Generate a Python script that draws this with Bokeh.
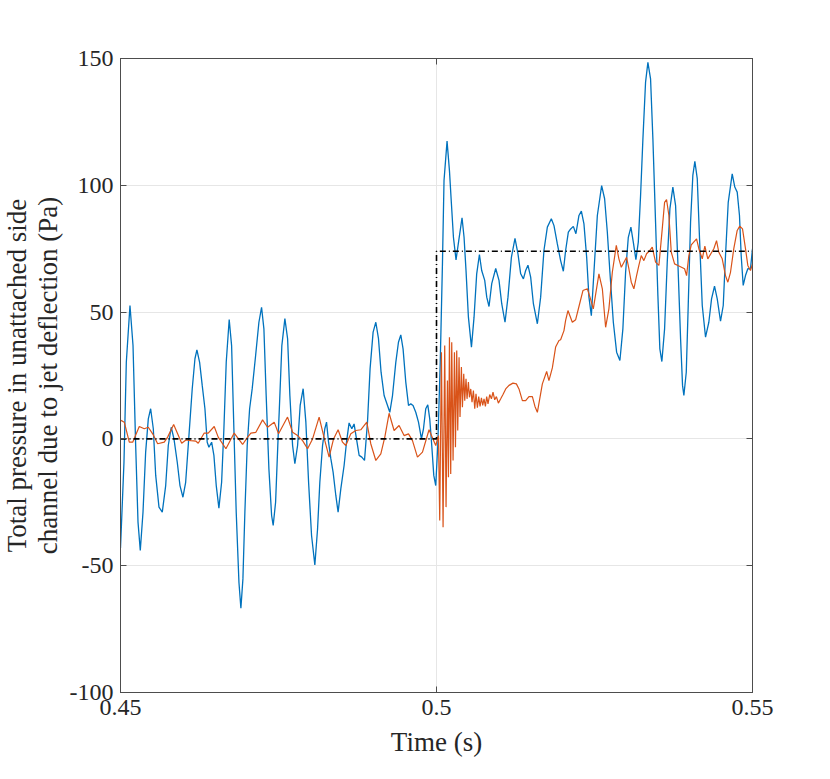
from bokeh.plotting import figure
from bokeh.models import Range1d, LinearAxis, FixedTicker, Title
from bokeh.embed import file_html
from bokeh.resources import INLINE

# ---- data (time in ms, pressure in Pa) ----
blue_t_ms = [450.00, 450.55, 450.92, 451.50, 451.98, 452.40, 452.77, 453.13, 453.56, 453.98,
             454.40, 454.77, 455.19, 455.57, 456.09, 456.61, 457.15, 457.56, 458.03, 458.46,
             458.98, 459.41, 459.88, 460.31, 460.83, 461.35, 461.78, 462.09, 462.52, 462.93,
             463.36, 463.72, 463.99, 464.42, 464.78, 465.15, 465.57, 466.00, 466.36, 466.73,
             467.20, 467.58, 467.94, 468.31, 468.74, 469.05, 469.37, 469.68, 470.05, 470.43,
             470.84, 471.38, 471.90, 472.32, 472.69, 473.05, 473.48, 473.91, 474.16, 474.54,
             474.95, 475.11, 475.53, 476.01, 476.44, 476.80, 477.23, 477.59, 478.02, 478.43,
             478.90, 479.33, 479.76, 480.23, 480.75, 481.18, 481.54, 481.97, 482.33, 482.60,
             482.92, 483.28, 483.64, 484.07, 484.43, 484.86, 485.38, 485.76, 486.17, 486.60,
             486.96, 487.34, 487.76, 488.18, 488.61, 489.08, 489.49, 489.97, 490.40, 490.82,
             491.23, 491.71, 492.25, 492.61, 493.04, 493.56, 493.98, 494.35, 494.71, 495.14,
             495.57, 495.93, 496.29, 496.72, 497.15, 497.62, 497.94, 498.30, 498.62, 498.93,
             499.25, 499.57, 499.88, 500.20, 500.59, 500.94, 501.19, 501.67, 502.05, 502.36,
             502.68, 503.09, 503.52, 504.04, 504.36, 504.67, 505.05, 505.53, 505.94, 506.36,
             506.79, 507.15, 507.63, 507.95, 508.31, 508.74, 509.37, 509.89, 510.32, 510.84,
             511.31, 511.85, 512.42, 512.89, 513.32, 513.75, 514.11, 514.47, 514.90, 515.33,
             515.96, 516.48, 517.00, 517.54, 518.17, 518.59, 519.12, 519.64, 520.07, 520.43,
             520.86, 521.23, 521.65, 522.06, 522.54, 522.92, 523.33, 523.76, 524.12, 524.50,
             524.91, 525.45, 526.13, 526.60, 527.03, 527.44, 527.98, 528.50, 529.02, 529.49,
             529.92, 530.35, 530.76, 531.14, 531.55, 531.93, 532.29, 532.66, 533.08, 533.45,
             533.87, 534.24, 534.66, 535.03, 535.34, 535.66, 536.09, 536.51, 536.93, 537.40,
             537.83, 538.19, 538.62, 538.93, 539.14, 539.52, 539.83, 540.20, 540.56, 540.88,
             541.26, 541.62, 542.05, 542.57, 543.09, 543.52, 543.99, 544.42, 544.94, 545.37,
             545.73, 546.16, 546.79, 547.20, 547.58, 547.94, 548.21, 548.53, 548.89, 549.26,
             549.68, 550.00]
blue_p = [-43.0, -9.2, 30.2, 52.6, 36.8, -2.6, -32.8, -44.0, -28.9, -5.2,
          7.9, 11.9, 4.0, -14.4, -26.9, -28.9, -18.4, -2.6, 4.6, 0.0,
          -9.2, -18.4, -23.0, -17.1, 1.3, 19.8, 31.6, 35.1, 30.2, 21.1,
          11.9, -1.3, -3.3, -1.3, -6.5, -18.4, -27.3, -17.1, 4.0, 30.2,
          47.1, 36.8, 4.0, -28.9, -56.5, -66.8, -55.2, -28.9, -2.6, 11.9,
          19.8, 32.9, 46.0, 51.9, 43.4, 17.1, -11.8, -30.2, -34.1, -25.0,
          1.3, 10.5, 36.8, 47.4, 39.5, 17.1, -2.6, -9.8, -2.6, 13.2,
          19.8, 6.6, -17.1, -38.1, -49.7, -35.5, -17.1, -2.6, 4.0, 6.6,
          -1.3, -7.8, -13.1, -22.3, -28.9, -19.7, -10.5, -1.3, 6.3, 4.0,
          5.9, 0.0, -6.5, -7.2, -8.5, 6.6, 27.6, 42.1, 46.0, 39.5,
          26.3, 17.1, 13.2, 10.5, 17.1, 30.2, 38.1, 41.0, 35.5, 22.4,
          13.2, 13.8, 13.2, 10.5, 6.6, 0.0, 4.0, 11.9, 13.4, 7.9,
          -2.6, -14.4, -18.4, -2.6, 30.0, 69.0, 101.9, 117.4, 105.8, 92.7,
          79.5, 70.6, 78.2, 87.2, 79.5, 66.4, 48.0, 36.2, 48.0, 65.1,
          72.7, 66.4, 62.5, 55.9, 52.2, 61.2, 67.2, 62.5, 53.3, 46.0,
          55.9, 71.6, 79.1, 73.0, 65.1, 63.1, 66.4, 68.5, 63.8, 53.3,
          45.4, 55.9, 74.3, 83.5, 86.8, 84.1, 76.9, 70.3, 66.1, 74.3,
          81.5, 82.8, 83.8, 80.9, 88.1, 89.8, 84.8, 71.6, 55.9, 48.6,
          65.7, 88.1, 99.9, 94.7, 81.5, 65.7, 46.0, 34.2, 30.9, 43.4,
          65.7, 79.5, 83.5, 77.6, 70.7, 77.6, 96.0, 118.3, 140.7, 148.5,
          142.0, 118.3, 85.5, 56.5, 35.5, 30.5, 43.4, 69.7, 90.7, 99.3,
          92.0, 69.7, 39.5, 21.1, 17.1, 26.3, 52.6, 85.5, 103.9, 109.4,
          102.6, 78.9, 52.6, 40.1, 46.0, 55.2, 60.2, 55.2, 46.4, 52.6,
          72.3, 93.3, 104.5, 99.3, 97.3, 88.1, 72.3, 60.5, 64.4, 67.1,
          67.1, 75.0]

orange_t_ms = [450.08, 450.60, 451.39, 451.93, 452.97, 453.76, 454.40, 455.09, 455.88, 456.92,
               457.46, 458.41, 459.04, 459.68, 460.36, 461.15, 461.94, 462.30, 463.25, 463.88,
               464.83, 465.46, 466.68, 467.99, 469.32, 470.11, 470.63, 471.42, 472.48, 473.27,
               474.32, 475.01, 476.43, 477.23, 478.02, 478.81, 479.60, 480.39, 481.43, 482.33,
               483.01, 483.71, 484.43, 485.13, 485.65, 486.44, 487.23, 488.02, 488.97, 489.60,
               490.40, 491.19, 491.82, 492.50, 493.29, 494.08, 494.87, 495.57, 496.20, 496.99,
               497.78, 498.82, 499.88,
               500.31, 500.51, 500.78, 501.04, 501.30, 501.51, 501.73, 501.89, 502.05, 502.25,
               502.41, 502.62, 502.84, 503.00, 503.20, 503.36, 503.57, 503.72, 503.94, 504.10,
               504.31, 504.47, 504.67, 504.83, 505.05, 505.21, 505.42, 505.62, 505.84, 506.05,
               506.25, 506.47, 506.68, 506.89, 507.11, 507.31, 507.52, 507.74, 507.94, 508.15,
               508.42, 508.69, 508.94, 509.21, 509.48, 509.79, 510.16, 510.52, 510.95, 511.47,
               512.10, 512.64, 513.05, 513.59, 514.11, 514.63, 515.17, 515.58, 515.96, 516.75,
               517.43, 517.79, 518.33, 518.85, 519.38, 519.64, 520.17, 520.43, 520.80, 521.49,
               522.02, 522.65, 523.17, 523.87, 524.39, 524.81, 525.70, 526.24, 526.76, 527.28,
               527.82, 528.45, 528.86, 529.24, 530.08, 530.44, 530.82, 531.23, 531.66, 532.02,
               532.40, 532.81, 533.24, 533.76, 534.14, 534.66, 535.19, 535.72, 536.09, 536.40,
               536.77, 537.15, 537.67, 538.19, 539.25, 539.57, 539.93, 540.31, 541.15, 541.51,
               542.05, 542.46, 542.93, 543.88, 544.31, 544.67, 545.21, 545.73, 546.10, 546.52,
               547.04, 547.58, 547.99, 548.42, 548.89, 549.26, 549.68, 550.00]
orange_p = [7.3, 6.6, -1.3, -1.3, 4.9, 4.0, 4.6, 2.0, -1.9, -1.3,
            0.7, 5.7, 2.0, -1.7, -0.4, -0.7, -0.9, -1.7, 2.3, 2.3,
            4.9, 0.7, -3.9, 2.3, -2.2, 0.7, 2.3, 2.6, 7.5, 4.6,
            6.6, 2.0, 8.6, 2.6, 1.3, -0.7, -3.9, 0.0, 8.6, -0.7,
            -7.2, 0.0, 3.6, -1.3, -2.6, 2.0, 3.3, 3.6, 6.6, -1.9,
            -8.5, -5.9, 0.7, 10.1, 3.3, 5.3, 1.3, 2.0, -0.7, -7.2,
            -5.2, 3.6, -2.6,
            1.3, -32.2, 34.2, -34.8, 36.8, -26.9, 23.0, -15.1, 40.1, -13.8,
            38.1, -8.5, 34.2, -3.3, 34.9, 3.3, 32.2, 8.6, 28.3, 12.5,
            25.7, 15.1, 23.7, 15.8, 22.4, 16.4, 19.7, 14.5, 19.1, 11.9,
            17.8, 12.3, 16.7, 12.8, 16.2, 13.2, 15.8, 12.8, 16.7, 13.8,
            17.5, 15.8, 18.4, 15.4, 16.7, 14.1, 15.8, 17.5, 19.7, 21.1,
            22.0, 21.7, 19.7, 15.1, 15.1, 16.7, 16.7, 12.8, 10.5, 21.7,
            26.6, 23.0, 28.0, 36.2, 38.8, 39.1, 42.7, 46.7, 50.6, 46.0,
            47.0, 53.3, 58.5, 59.2, 55.0, 51.3, 65.1, 59.2, 44.0, 51.3,
            65.7, 76.3, 71.0, 67.7, 71.6, 67.1, 61.8, 59.2, 64.4, 68.4,
            72.3, 70.3, 73.0, 74.3, 75.6, 69.7, 68.4, 82.8, 93.3, 94.4,
            88.1, 73.6, 69.0, 68.4, 67.1, 64.4, 72.3, 76.5, 78.9, 75.0,
            71.0, 76.0, 71.0, 75.0, 78.2, 73.6, 71.0, 64.4, 61.8, 65.7,
            75.0, 82.2, 83.9, 82.8, 75.0, 68.4, 66.4, 69.0]

step_t_ms = [450.0, 500.0, 500.0, 550.0]
step_p = [0.0, 0.0, 74.0, 74.0]

x_ticks = [0.45, 0.5, 0.55]
x_tick_labels = ["0.45", "0.5", "0.55"]
y_ticks = [-100, -50, 0, 50, 100, 150]
y_tick_labels = ["-100", "-50", "0", "50", "100", "150"]

x_label = "Time (s)"
y_label_1 = "Total pressure in unattached side"
y_label_2 = "channel due to jet deflection (Pa)"

# ---- figure ----
FONT = "Liberation Serif"
TXT = "#262626"
AX = "#4d4d4d"

p = figure(width=820, height=772, x_range=Range1d(0.45, 0.55), y_range=Range1d(-100, 150),
           output_backend="svg", toolbar_location=None,
           min_border_left=120, min_border_right=68, min_border_top=58, min_border_bottom=80)
p.background_fill_color = "white"
p.border_fill_color = "white"
p.outline_line_color = AX

p.xaxis.ticker = FixedTicker(ticks=x_ticks)
p.xaxis.major_label_overrides = dict(zip(x_ticks, x_tick_labels))
p.yaxis.ticker = FixedTicker(ticks=y_ticks)
p.yaxis.major_label_overrides = dict(zip(y_ticks, y_tick_labels))

for ax in (p.xaxis[0], p.yaxis[0]):
    ax.axis_line_color = AX
    ax.major_tick_line_color = AX
    ax.major_tick_in = 6
    ax.major_tick_out = 0
    ax.minor_tick_line_color = None
    ax.major_label_text_font = FONT
    ax.major_label_text_font_size = "24px"
    ax.major_label_text_color = TXT
    ax.axis_label_text_font = FONT
    ax.axis_label_text_font_size = "27px"
    ax.axis_label_text_font_style = "normal"
    ax.axis_label_text_color = TXT

p.xaxis.major_label_standoff = 7
p.yaxis.major_label_standoff = 7
p.xaxis.axis_label = x_label
p.xaxis.axis_label_standoff = 9
p.yaxis.axis_label = y_label_2
p.yaxis.axis_label_standoff = 4

p.xgrid.ticker = FixedTicker(ticks=x_ticks)
p.ygrid.ticker = FixedTicker(ticks=y_ticks)
p.grid.grid_line_color = "#e6e6e6"
p.grid.grid_line_width = 1

# box axes (right / top): inward ticks, empty labels
for loc, tk in (("right", y_ticks), ("above", x_ticks)):
    a = LinearAxis(ticker=FixedTicker(ticks=tk))
    a.major_label_overrides = {t: "" for t in tk}
    a.axis_line_color = AX
    a.major_tick_line_color = AX
    a.major_tick_in = 6
    a.major_tick_out = 0
    a.minor_tick_line_color = None
    a.major_label_standoff = 0
    p.add_layout(a, loc)

# first line of the y label, outside the axis label
p.add_layout(Title(text=y_label_1, align="center", text_font=FONT, text_font_size="27px",
                   text_font_style="normal", text_color=TXT, standoff=-4, offset=0), "left")

# ---- series ----
to_s = lambda arr: [v / 1000.0 for v in arr]
p.line(to_s(blue_t_ms), blue_p, line_color="#0072BD", line_width=1.3)
p.line(to_s(orange_t_ms), orange_p, line_color="#D95319", line_width=1.2)
p.line(to_s(step_t_ms), step_p, line_color="black", line_width=1.6, line_dash="6 3 1 3")

open("out.html", "w").write(file_html(p, INLINE))
